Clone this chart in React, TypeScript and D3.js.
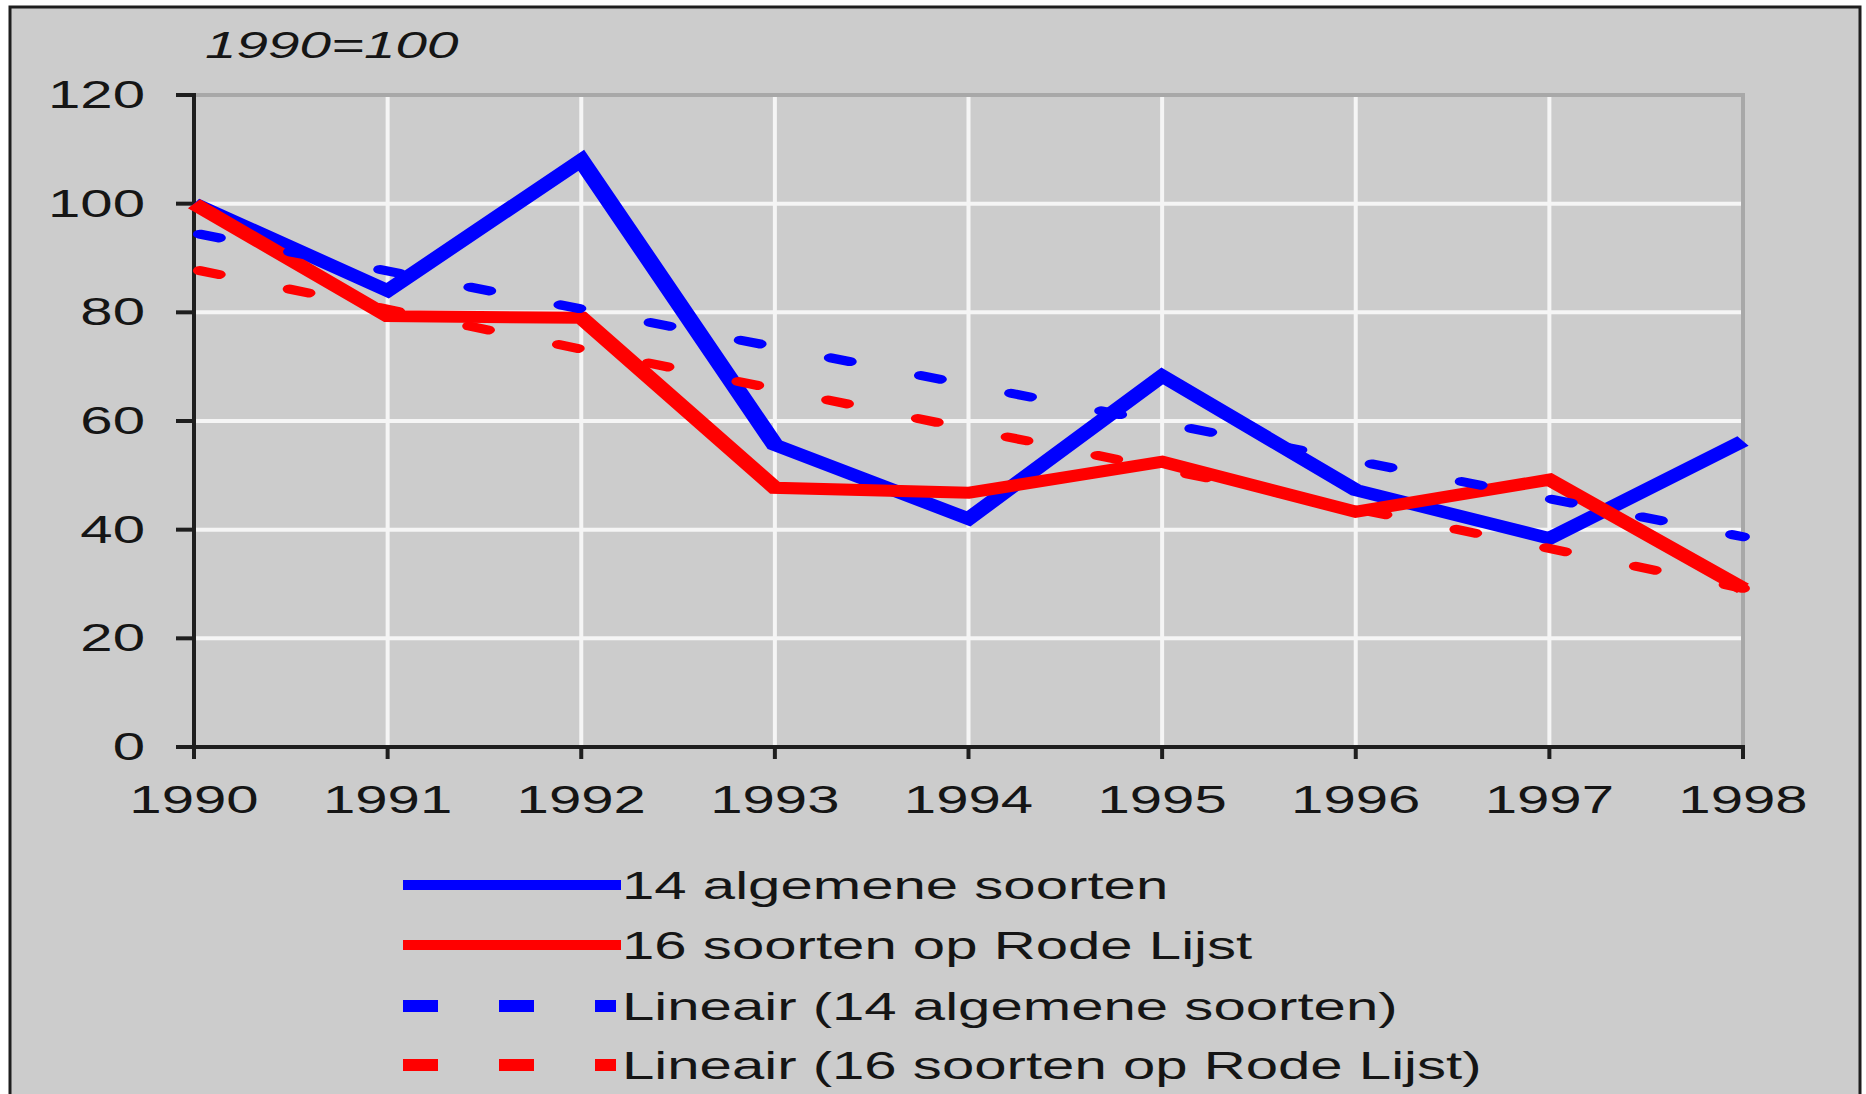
import { useEffect, useRef } from "react"
import * as d3 from "d3"

// data (index 1990 = 100)
const years = [1990, 1991, 1992, 1993, 1994, 1995, 1996, 1997, 1998]
const algemene = [100, 84, 108, 55.6, 42, 68.3, 47.3, 38.4, 56.3]
const rodeLijst = [100, 79.3, 79, 47.7, 46.8, 52.5, 43.3, 49.2, 29.2]
// linear trend lines (Excel "Lineair"), start and end values
const trendYears = [1990, 1998]
const trendAlgemene = [94.6, 38.7]
const trendRodeLijst = [87.9, 29.2]
const yTicks = [0, 20, 40, 60, 80, 100, 120]
const legendLabels = [
  "14 algemene soorten",
  "16 soorten op Rode Lijst",
  "Lineair (14 algemene soorten)",
  "Lineair (16 soorten op Rode Lijst)",
]
const subtitle = "1990=100"

const BLUE = "#0000ff"
const RED = "#ff0000"
const FONT = "'Liberation Sans', Arial, sans-serif"
const SX = 1.53 // the original picture is stretched horizontally

export default function App() {
  const svgRef = useRef<SVGSVGElement>(null)

  useEffect(() => {
    if (!svgRef.current) return
    const svg = d3.select(svgRef.current)
    svg.selectAll("*").remove()

    const W = 1866
    const H = 1094
    const plot = { left: 194, right: 1743, top: 95, bottom: 747 }

    svg.attr("width", W).attr("height", H)
    svg.append("rect").attr("width", W).attr("height", H).attr("fill", "#ffffff")
    // chart area with dark frame
    svg
      .append("rect")
      .attr("x", 10)
      .attr("y", 7)
      .attr("width", 1850)
      .attr("height", 1200)
      .attr("fill", "#cccccc")
      .attr("stroke", "#1e1e1e")
      .attr("stroke-width", 3)

    const text = (
      x: number,
      y: number,
      s: string,
      anchor: string,
      size: number,
      italic = false
    ) =>
      svg
        .append("text")
        .attr("transform", `translate(${x},${y}) scale(${SX},1)`)
        .attr("text-anchor", anchor)
        .attr("font-family", FONT)
        .attr("font-size", size)
        .attr("font-style", italic ? "italic" : "normal")
        .attr("fill", "#151515")
        .text(s)

    const x = d3.scaleLinear().domain([1990, 1998]).range([plot.left, plot.right])
    const y = d3.scaleLinear().domain([0, 120]).range([plot.bottom, plot.top])

    // plot frame (top/right) in gray
    svg
      .append("path")
      .attr("d", `M${plot.left},${plot.top}H${plot.right}V${plot.bottom}`)
      .attr("fill", "none")
      .attr("stroke", "#a8a8a8")
      .attr("stroke-width", 4)

    // white grid
    const grid = svg.append("g").attr("stroke", "#f5f5f5").attr("stroke-width", 4)
    grid
      .selectAll("line.v")
      .data(years.slice(1, -1))
      .join("line")
      .attr("x1", (d) => x(d))
      .attr("x2", (d) => x(d))
      .attr("y1", plot.top + 2)
      .attr("y2", plot.bottom)
    grid
      .selectAll("line.h")
      .data(yTicks.slice(1, -1))
      .join("line")
      .attr("x1", plot.left)
      .attr("x2", plot.right - 2)
      .attr("y1", (d) => y(d))
      .attr("y2", (d) => y(d))

    // axes
    const axis = svg.append("g").attr("stroke", "#1e1e1e").attr("stroke-width", 4)
    axis
      .append("line")
      .attr("x1", plot.left)
      .attr("x2", plot.left)
      .attr("y1", plot.top - 2)
      .attr("y2", plot.bottom + 2)
    axis
      .append("line")
      .attr("x1", plot.left - 2)
      .attr("x2", plot.right + 2)
      .attr("y1", plot.bottom)
      .attr("y2", plot.bottom)
    axis
      .selectAll("line.yt")
      .data(yTicks)
      .join("line")
      .attr("class", "yt")
      .attr("x1", plot.left - 18)
      .attr("x2", plot.left)
      .attr("y1", (d) => y(d))
      .attr("y2", (d) => y(d))
    axis
      .selectAll("line.xt")
      .data(years)
      .join("line")
      .attr("class", "xt")
      .attr("x1", (d) => x(d))
      .attr("x2", (d) => x(d))
      .attr("y1", plot.bottom)
      .attr("y2", plot.bottom + 12)

    yTicks.forEach((t) => text(145, y(t) + 13, String(t), "end", 38))
    years.forEach((yr) => text(x(yr), plot.bottom + 66, String(yr), "middle", 38))
    text(205, 58, subtitle, "start", 37, true)

    // series, drawn in a horizontally stretched group so strokes match the picture
    const xs = d3
      .scaleLinear()
      .domain([1990, 1998])
      .range([plot.left / SX, plot.right / SX])
    const series = svg.append("g").attr("transform", `scale(${SX},1)`)
    const line = d3
      .line<number>()
      .x((_, i) => xs(years[i]))
      .y((d) => y(d))
    const trend = d3
      .line<number>()
      .x((_, i) => xs(trendYears[i]))
      .y((d) => y(d))

    series
      .append("path")
      .attr("d", line(algemene))
      .attr("fill", "none")
      .attr("stroke", BLUE)
      .attr("stroke-width", 12)
    series
      .append("path")
      .attr("d", line(rodeLijst))
      .attr("fill", "none")
      .attr("stroke", RED)
      .attr("stroke-width", 12)
    ;[
      { v: trendAlgemene, c: BLUE },
      { v: trendRodeLijst, c: RED },
    ].forEach(({ v, c }) =>
      series
        .append("path")
        .attr("d", trend(v))
        .attr("fill", "none")
        .attr("stroke", c)
        .attr("stroke-width", 9)
        .attr("stroke-linecap", "round")
        .attr("stroke-dasharray", "13 48.5")
        .attr("stroke-dashoffset", -4)
    )

    // legend
    const legendRows = [885, 945, 1006, 1065]
    const legendStyle = [
      { c: BLUE, dash: null },
      { c: RED, dash: null },
      { c: BLUE, dash: "35 61" },
      { c: RED, dash: "35 61" },
    ]
    legendLabels.forEach((label, i) => {
      const ly = legendRows[i]
      const st = legendStyle[i]
      svg
        .append("line")
        .attr("x1", 403)
        .attr("x2", st.dash ? 616 : 621)
        .attr("y1", ly)
        .attr("y2", ly)
        .attr("stroke", st.c)
        .attr("stroke-width", st.dash ? 12 : 10)
        .attr("stroke-dasharray", st.dash)
      text(622, ly + 14, label, "start", 38)
    })
  }, [])

  return <svg ref={svgRef} style={{ position: "absolute", left: 0, top: 0 }}></svg>
}
